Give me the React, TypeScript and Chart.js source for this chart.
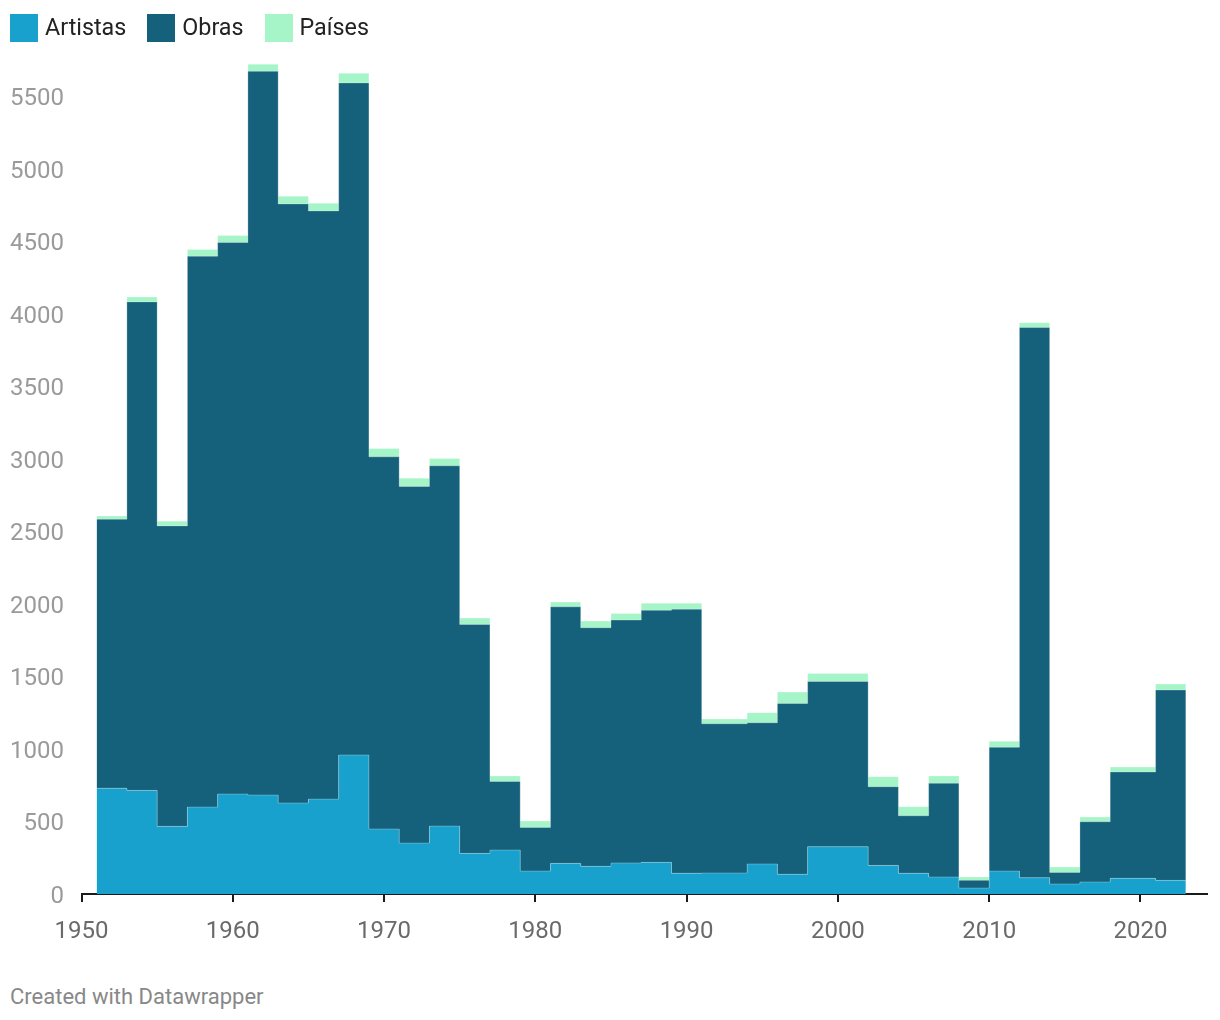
import React, { useEffect, useRef } from "react";
import { Chart, registerables } from "chart.js";

Chart.register(...registerables);

// São Paulo Bienal editions (step values hold until next edition)
const years = [1951, 1953, 1955, 1957, 1959, 1961, 1963, 1965, 1967, 1969, 1971, 1973, 1975, 1977, 1979, 1981, 1983, 1985, 1987, 1989, 1991, 1994, 1996, 1998, 2002, 2004, 2006, 2008, 2010, 2012, 2014, 2016, 2018, 2021, 2023];
const artistas = [729, 714, 466, 599, 689, 682, 627, 654, 958, 448, 351, 468, 280, 303, 158, 211, 191, 214, 218, 143, 145, 207, 136, 326, 197, 143, 117, 41, 158, 112, 69, 83, 108, 94, 94];
const obras = [1854, 3367, 2071, 3797, 3801, 4988, 4129, 4054, 4632, 2565, 2458, 2483, 1578, 473, 301, 1768, 1644, 1674, 1737, 1820, 1028, 973, 1177, 1139, 542, 396, 646, 53, 853, 3792, 80, 415, 733, 1312, 1312];
const paises = [22, 34, 32, 46, 48, 49, 53, 53, 67, 57, 57, 51, 44, 37, 44, 33, 46, 46, 49, 41, 33, 69, 79, 55, 69, 62, 50, 23, 41, 33, 37, 32, 34, 41, 41];

const seriesNames = ["Artistas", "Obras", "Países"];
const seriesColors = ["#18a1cd", "#15607a", "#a6f5c8"];

const xTickValues = [1950, 1960, 1970, 1980, 1990, 2000, 2010, 2020];
const yTickValues = [0, 500, 1000, 1500, 2000, 2500, 3000, 3500, 4000, 4500, 5000, 5500];

const X_MIN = 1950;
const X_MAX = 2024.4;
const Y_MAX = 5750;

export default function App() {
  const ref = useRef<HTMLCanvasElement>(null);

  useEffect(() => {
    document.body.style.margin = "0";
    Chart.defaults.font.family = "Roboto";
    const canvas = ref.current!;
    const seriesData = [artistas, obras, paises];
    const pxPerUnit = 798 / 5500;
    const chartBottom = 894;
    const canvasH = 960;
    const xAxisH = 50;
    const top = chartBottom - Y_MAX * pxPerUnit;

    const chart = new Chart(canvas, {
      type: "line",
      data: {
        datasets: seriesData.map((arr, i) => ({
          label: seriesNames[i],
          data: years.map((yr, j) => ({ x: yr, y: arr[j] })),
          backgroundColor: seriesColors[i],
          borderColor: "rgba(255,255,255,0.25)",
          borderWidth: 1,
          fill: i === 0 ? "origin" : "-1",
          stepped: true,
          pointRadius: 0,
          tension: 0,
        })),
      },
      options: {
        animation: false,
        responsive: false,
        devicePixelRatio: 1,
        layout: {
          padding: { top: top, right: 13, bottom: canvasH - chartBottom - xAxisH, left: 0 },
        },
        plugins: {
          legend: { display: false },
          tooltip: { enabled: false },
        },
        scales: {
          x: {
            type: "linear",
            min: X_MIN,
            max: X_MAX,
            z: 1,
            afterBuildTicks: (scale: any) => {
              scale.ticks = xTickValues.map((v) => ({ value: v }));
            },
            afterFit: (scale: any) => {
              scale.height = xAxisH;
            },
            ticks: {
              callback: (v: any) => String(v),
              color: "#6a6a6a",
              font: { size: 24, family: "Roboto" },
              padding: 16,
              maxRotation: 0,
              autoSkip: false,
            },
            grid: {
              display: true,
              drawOnChartArea: false,
              drawTicks: true,
              tickLength: 8,
              tickColor: "#1a1a1a",
              tickWidth: 2,
              color: "#1a1a1a",
              lineWidth: 2,
            },
            border: { display: true, color: "#1a1a1a", width: 2 },
          },
          y: {
            type: "linear",
            stacked: true,
            min: 0,
            max: Y_MAX,
            afterBuildTicks: (scale: any) => {
              scale.ticks = yTickValues.map((v) => ({ value: v }));
            },
            afterFit: (scale: any) => {
              scale.width = 81.5;
            },
            ticks: {
              callback: (v: any) => String(v),
              color: "#9a9a9a",
              font: { size: 24, family: "Roboto" },
              padding: 17.5,
              labelOffset: 3,
              autoSkip: false,
            },
            grid: { display: false, drawTicks: false },
            border: { display: false },
          },
        },
      },
    });
    return () => chart.destroy();
  }, []);

  return (
    <div style={{ position: "relative", width: 1220, height: 1020, background: "#fff", overflow: "hidden", fontFamily: "Roboto" }}>
      <canvas ref={ref} width={1220} height={960} style={{ position: "absolute", left: 0, top: 0, width: 1220, height: 960 }} />
      <div style={{ position: "absolute", left: 10, top: 14, display: "flex", alignItems: "center", height: 28 }}>
        {seriesNames.map((n, i) => (
          <div key={n} style={{ display: "flex", alignItems: "center", marginRight: 21 }}>
            <span style={{ display: "inline-block", width: 28, height: 28, background: seriesColors[i], marginRight: 7 }} />
            <span style={{ fontSize: 23.3, color: "#222", lineHeight: "28px", position: "relative", top: -1 }}>{n}</span>
          </div>
        ))}
      </div>
      <div style={{ position: "absolute", left: 10, top: 984, fontSize: 22, color: "#888", lineHeight: "26px" }}>
        Created with Datawrapper
      </div>
    </div>
  );
}
